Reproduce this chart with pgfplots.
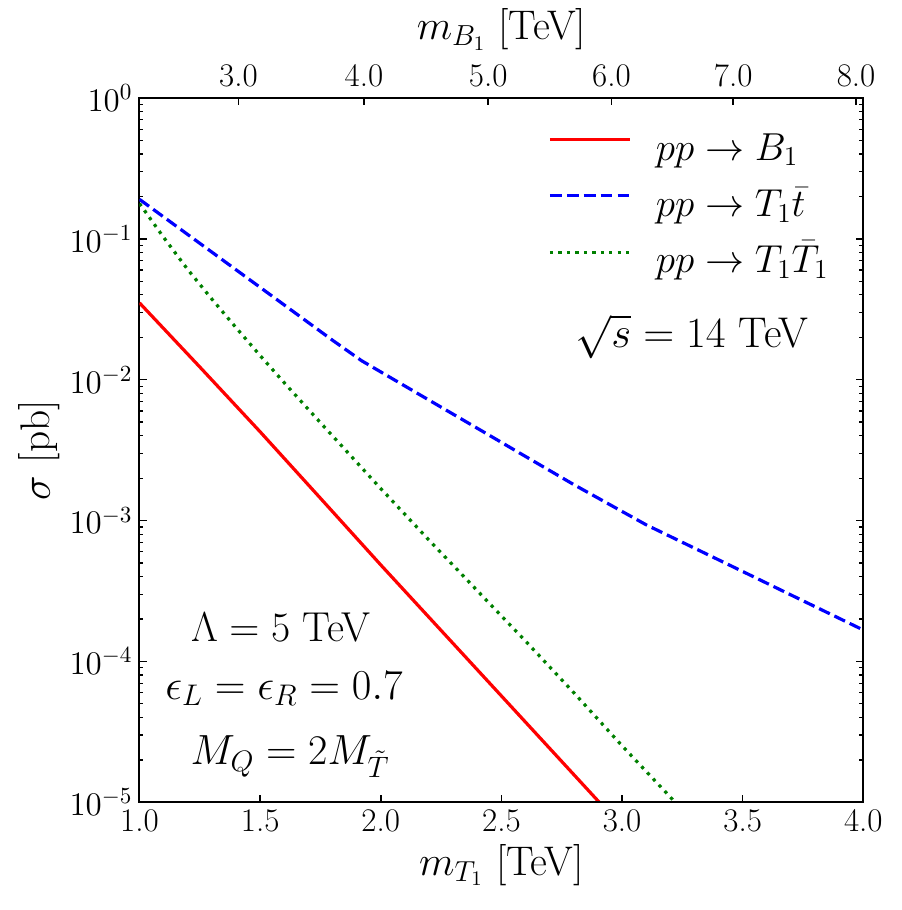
\RequirePackage{fix-cm}
\documentclass[border=0pt]{standalone}
\usepackage{pgfplots}
\pgfplotsset{compat=1.18}
\definecolor{mplgreen}{rgb}{0,0.5,0}

\pgfplotstableread{
x y
1.00 0.03508
1.25 0.01230
1.50 0.004266
1.75 0.001440
2.00 4.842e-4
2.25 1.660e-4
2.50 5.69e-5
2.75 1.950e-5
3.00 6.68e-6
}\tabred

\pgfplotstableread{
x y
1.00 0.1905
1.20 0.1072
1.40 0.0603
1.60 0.0339
1.80 0.01905
1.92 0.01365
2.00 0.01135
2.20 0.00716
2.40 0.00452
2.60 0.00285
2.80 0.00180
3.00 0.001161
3.10 9.33e-4
3.30 6.37e-4
3.50 4.35e-4
3.70 2.965e-4
3.90 2.023e-4
4.00 1.671e-4
}\tabblue

\pgfplotstableread{
x y
1.00 0.178
1.10 0.1023
1.20 0.0605
1.30 0.0373
1.40 0.0234
1.50 0.01483
1.60 0.00951
1.70 0.00615
1.80 0.00399
2.00 0.001687
2.20 7.26e-4
2.40 3.18e-4
2.60 1.395e-4
2.80 6.0e-5
3.00 2.52e-5
3.20 1.09e-5
3.30 7.1e-6
}\tabgreen

\begin{document}
\begin{tikzpicture}
\begin{axis}[
  width=361.9pt, height=352.2pt, scale only axis,
  xmin=1, xmax=4, ymin=1e-5, ymax=1, ymode=log,
  tick align=inside,
  major tick length=3.5pt, minor tick length=2pt,
  axis line style={line width=1pt},
  tick style={black, line width=0.8pt},
  minor tick style={line width=0.6pt},
  ticklabel style={font=\fontsize{16.5}{20}\selectfont},
  label style={font=\fontsize{20.7}{25}\selectfont},
  minor x tick num=0,
  xtick={1,1.5,2,2.5,3,3.5,4},
  xticklabels={1.0,1.5,2.0,2.5,3.0,3.5,4.0},
  xtick pos=left,
  ytick pos=both,
  xlabel={$m_{T_1}$ [TeV]},
  xlabel style={at={(axis description cs:0.5,-0.1032)}, anchor=base},
  ylabel={$\sigma$ [pb]},
  ylabel style={at={(axis description cs:-0.1237,0.5)}, anchor=base},
  legend style={draw=none, fill=none, at={(rel axis cs:0.5648,0.9459)}, anchor=north west,
    inner sep=0pt, outer sep=0pt, row sep=13.2pt, column sep=12.2pt,
    font=\fontsize{19.5}{23}\selectfont,
    nodes={inner sep=0pt, text height=12pt, text depth=3pt}},
  legend cell align=left,
  legend image post style={xscale=2.343, yshift=5.8pt},
]
\addplot[color=red, line width=1.6pt] table[x=x,y=y] {\tabred};
\addlegendentry{$pp\rightarrow B_1$}
\addplot[color=blue, line width=1.6pt, dash pattern=on 5.9pt off 2.56pt] table[x=x,y=y] {\tabblue};
\addlegendentry{$pp\rightarrow T_1\bar{t}$}
\addplot[color=mplgreen, line width=1.6pt, dash pattern=on 1.6pt off 2.64pt] table[x=x,y=y] {\tabgreen};
\addlegendentry{$pp\rightarrow T_1\bar{T}_1$}

\node[anchor=base, font=\fontsize{21.5}{26}\selectfont] at (rel axis cs:0.763,0.645) {$\sqrt{s}=14$ TeV};
\node[anchor=base, font=\fontsize{20.9}{25}\selectfont] at (rel axis cs:0.195,0.228) {$\Lambda=5$ TeV};
\node[anchor=base, font=\fontsize{21.3}{25}\selectfont] at (rel axis cs:0.1996,0.1466) {$\epsilon_L=\epsilon_R=0.7$};
\node[anchor=base, font=\fontsize{21.1}{25}\selectfont] at (rel axis cs:0.208,0.053) {$M_Q=2M_{\tilde{T}}$};
\end{axis}

\begin{axis}[
  width=361.9pt, height=352.2pt, scale only axis,
  xmin=1, xmax=4, ymin=1e-5, ymax=1, ymode=log,
  tick align=inside,
  major tick length=3.5pt,
  axis line style={line width=1pt},
  tick style={black, line width=0.8pt},
  ticklabel style={font=\fontsize{16.5}{20}\selectfont},
  label style={font=\fontsize{20.7}{25}\selectfont},
  minor x tick num=0,
  hide y axis,
  xtick={1.41,1.93,2.445,2.956,3.461,3.97},
  xticklabels={3.0,4.0,5.0,6.0,7.0,8.0},
  xtick pos=right, xticklabel pos=right,
  xticklabel style={yshift=2pt},
  xlabel={$m_{B_1}$ [TeV]},
  xlabel style={at={(axis description cs:0.5,1.0829)}, anchor=base},
]
\end{axis}
\pgfresetboundingbox
\path[use as bounding box] (-69.75pt,-53.85pt) rectangle (380.75pt,401.15pt);
\end{tikzpicture}
\end{document}
